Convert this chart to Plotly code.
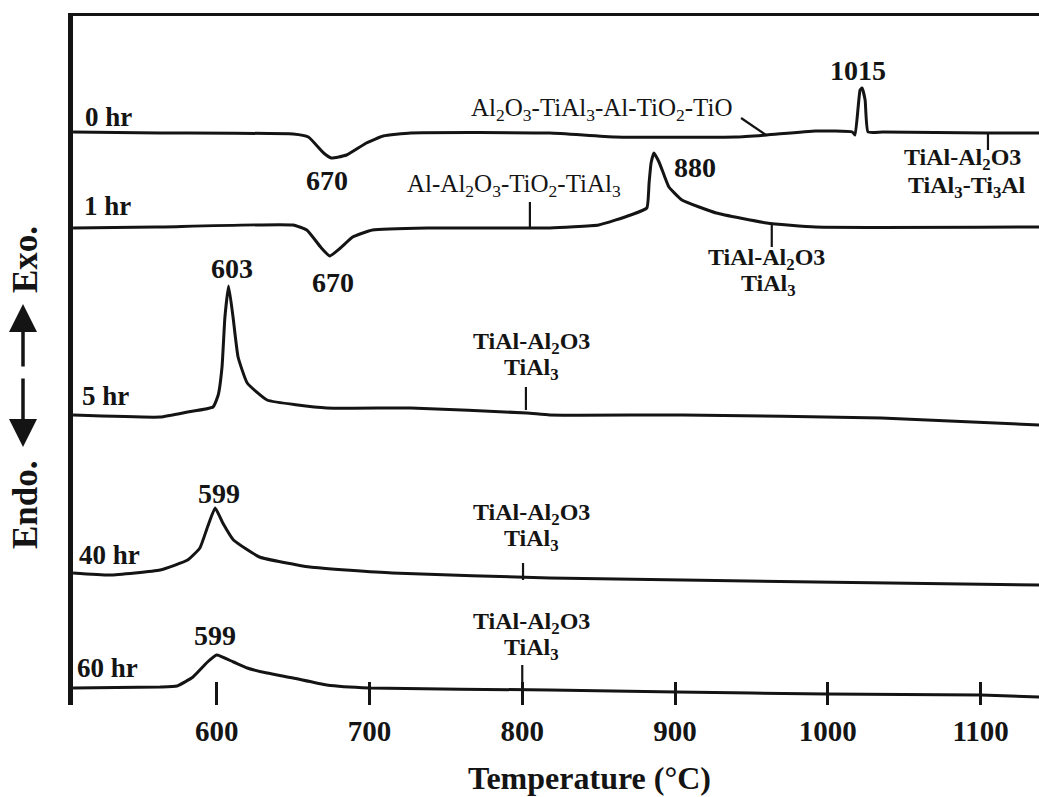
import plotly.graph_objects as go

# ---------------- data ----------------
labels = ["0 hr", "1 hr", "5 hr", "40 hr", "60 hr"]
offsets = [567, 472, 285, 127, 12]          # vertical stacking offset of each curve

t_0hr = [506, 563, 650, 660, 670, 675, 685, 698, 709, 727, 818, 861, 940, 960, 992,
         1016, 1017.8, 1021.1, 1022.4, 1024.4, 1026.3, 1036, 1104, 1138.2]
s_0hr = [1, 0, -1, -4, -20, -25, -22, -10, -3, 0, 0, -4, -4, -2, 2,
         1, -2, 43, 45, 33, 1, 1, 0, 0]

t_1hr = [506, 560, 650, 659, 668, 674, 681, 689, 702, 738, 805, 818, 850, 871,
         881.5, 883, 884.3, 886.2, 889.5, 892.8, 896, 904.5, 927, 960, 992, 1138.2]
s_1hr = [0, 1, 3, -2, -19, -28, -20, -9, -2, 0, 0, 0, 3, 13,
         20, 45, 65, 75, 66, 53, 41, 28, 15, 5, 1, 1]

t_5hr = [506, 563, 581, 597.6, 601, 603.5, 605.4, 607.8, 610.7, 614, 620, 633, 672,
         727, 803, 818, 905, 1035, 1138.2]
s_5hr = [0, -2, 3, 8, 20, 48, 98, 129, 98, 58, 32, 15, 7,
         7, 2, 0, 0, -3, -10]

t_40hr = [506, 530, 563, 581, 589, 594, 599, 604, 611, 628, 661, 715, 818, 992, 1138.2]
s_40hr = [0, -2, 3, 13, 25, 46, 65, 50, 33, 16, 6, 0, -5, -9, -12]

t_60hr = [506, 563, 574, 584.5, 594, 600, 611, 620, 633, 650, 672, 700, 818, 901,
          999, 1100, 1138.2]
s_60hr = [0, 1, 2, 11, 26, 33, 26, 20, 15, 10, 3, 0, -2, -4,
          -6, -7, -9]

temps = [t_0hr, t_1hr, t_5hr, t_40hr, t_60hr]
signals = [s_0hr, s_1hr, s_5hr, s_40hr, s_60hr]

x_tick_vals = [600, 700, 800, 900, 1000, 1100]
x_tick_text = ["600", "700", "800", "900", "1000", "1100"]

# ---------------- styling ----------------
INK = "#141414"
SERIF = "Liberation Serif, Times New Roman, serif"
W, H = 1039, 797
ML, MR, MT, MB = 73, 0, 16, 92
XR = [505.96, 1138.2]
YR = [-5, 684]

fig = go.Figure()
for lab, off, t, s in zip(labels, offsets, temps, signals):
    fig.add_trace(go.Scatter(
        x=t, y=[off + v for v in s], mode="lines", name=lab,
        line=dict(color=INK, width=3, shape="spline", smoothing=0.4),
        showlegend=False, hoverinfo="skip"))


def txt(x, y, text, size, bold=True, xanchor="center"):
    return dict(x=x, y=y, xref="x", yref="y", text=text, showarrow=False,
                xanchor=xanchor, yanchor="middle",
                font=dict(family=SERIF, size=size, color=INK,
                          weight="bold" if bold else "normal"))


ann = []
# curve labels
hr_pos = [(512.5, 583), (512.0, 494), (510.5, 304), (508.6, 145), (507.3, 32)]
for lab, (x, y) in zip(labels, hr_pos):
    ann.append(txt(x, y, lab, 27, xanchor="left"))

# peak temperatures
ann += [
    txt(672.5, 520, "670", 28),
    txt(676.2, 418, "670", 28),
    txt(1019.7, 630, "1015", 28),
    txt(913, 533, "880", 28),
    txt(610, 432, "603", 28),
    txt(601.2, 207, "599", 28),
    txt(598.6, 65, "599", 28),
]

# phase labels
ann += [
    txt(852.4, 591, "Al<sub>2</sub>O<sub>3</sub>-TiAl<sub>3</sub>-Al-TiO<sub>2</sub>-TiO", 25, bold=False),
    txt(794.9, 515, "Al-Al<sub>2</sub>O<sub>3</sub>-TiO<sub>2</sub>-TiAl<sub>3</sub>", 25, bold=False),
    txt(1088, 541, "TiAl-Al<sub>2</sub>O3", 24),
    txt(1091, 513, "TiAl<sub>3</sub>-Ti<sub>3</sub>Al", 24),
    txt(959.6, 441, "TiAl-Al<sub>2</sub>O3", 24),
    txt(961, 415, "TiAl<sub>3</sub>", 24),
    txt(805.8, 357, "TiAl-Al<sub>2</sub>O3", 24),
    txt(805.8, 331, "TiAl<sub>3</sub>", 24),
    txt(805.8, 186, "TiAl-Al<sub>2</sub>O3", 24),
    txt(805.8, 160, "TiAl<sub>3</sub>", 24),
    txt(805.8, 77, "TiAl-Al<sub>2</sub>O3", 24),
    txt(805.8, 51, "TiAl<sub>3</sub>", 24),
]


def px(x_px, y_px):
    return (x_px - ML) / (W - ML - MR), (H - MB - y_px) / (H - MT - MB)


# y-axis label: "Endo. <--  --> Exo."
ex, ey = px(25, 260)
en, eny = px(25, 505)
ann.append(dict(x=ex, y=ey, xref="paper", yref="paper", text="Exo.", showarrow=False,
                textangle=-90, xanchor="center", yanchor="middle",
                font=dict(family=SERIF, size=35, color=INK, weight="bold")))
ann.append(dict(x=en, y=eny, xref="paper", yref="paper", text="Endo.", showarrow=False,
                textangle=-90, xanchor="center", yanchor="middle",
                font=dict(family=SERIF, size=35, color=INK, weight="bold")))
ux, uy = px(23, 304)
ann.append(dict(x=ux, y=uy, xref="paper", yref="paper", text="", showarrow=True,
                ax=0, ay=64, arrowhead=2, arrowsize=1.6, arrowwidth=3.5, arrowcolor=INK))
dx, dy = px(23, 447)
ann.append(dict(x=dx, y=dy, xref="paper", yref="paper", text="", showarrow=True,
                ax=0, ay=-70, arrowhead=2, arrowsize=1.6, arrowwidth=3.5, arrowcolor=INK))

# x-axis title
tx, ty = px(589, 778)
ann.append(dict(x=tx, y=ty, xref="paper", yref="paper", text="Temperature (°C)",
                showarrow=False, xanchor="center", yanchor="middle",
                font=dict(family=SERIF, size=32, color=INK, weight="bold")))

# leader / pointer lines to the curves
pointers = [((943.2, 582), (959.6, 565)),
            ((1104.8, 567), (1104.8, 550)),
            ((805, 498), (805, 473)),
            ((963.3, 477), (963.3, 453)),
            ((802.4, 313), (802.4, 290)),
            ((800.5, 137), (800.5, 120)),
            ((800, 35), (800, 12))]
shapes = [dict(type="line", xref="x", yref="y", x0=a[0], y0=a[1], x1=b[0], y1=b[1],
               line=dict(color=INK, width=2.2)) for a, b in pointers]

fig.update_layout(
    width=W, height=H,
    margin=dict(l=ML, r=MR, t=MT, b=MB, pad=0),
    paper_bgcolor="white", plot_bgcolor="white",
    annotations=ann, shapes=shapes,
    xaxis=dict(range=XR, showgrid=False, zeroline=False, showline=False,
               tickvals=x_tick_vals, ticktext=x_tick_text,
               ticks="inside", ticklen=23, tickwidth=2.5, tickcolor=INK,
               ticklabelstandoff=6,
               tickfont=dict(family=SERIF, size=29, color=INK, weight="bold")),
    xaxis2=dict(range=XR, overlaying="x", side="top", showgrid=False, zeroline=False,
                showline=True, linewidth=3, linecolor=INK, showticklabels=False,
                ticks=""),
    yaxis=dict(range=YR, showgrid=False, zeroline=False, showline=True,
               linewidth=4.5, linecolor=INK, showticklabels=False, ticks=""),
)
# invisible helper trace so the top border axis is drawn
fig.add_trace(go.Scatter(x=[XR[0]], y=[YR[0]], xaxis="x2", mode="markers",
                         marker=dict(opacity=0), showlegend=False, hoverinfo="skip"))

fig.write_html("out.html")
